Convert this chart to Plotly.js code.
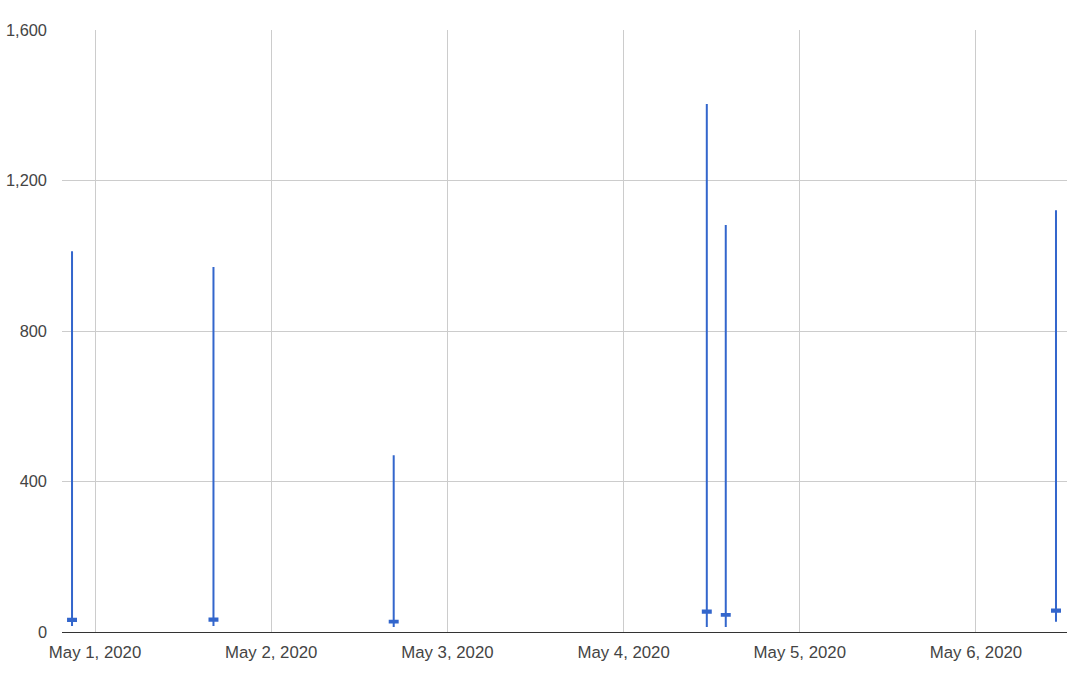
<!DOCTYPE html>
<html>
<head>
<meta charset="utf-8">
<script src="https://cdn.plot.ly/plotly-3.0.1.min.js"></script>
<style>html,body{margin:0;padding:0;background:#fff;}#chart{width:1091px;height:684px;}</style>
</head>
<body>
<div id="chart"></div>
<script>
const dates = ["2020-04-30 20:52", "2020-05-01 16:08", "2020-05-02 16:41", "2020-05-04 11:20", "2020-05-04 13:55", "2020-05-06 10:54"];
const openVals = [29, 30, 25, 51, 43, 54];
const closeVals = [35, 36, 30, 57, 48, 60];
const highVals = [1012, 970, 470, 1403, 1082, 1121];
const lowVals = [16, 16, 13, 13, 13, 27];
const xTickVals = ["2020-05-01", "2020-05-02", "2020-05-03", "2020-05-04", "2020-05-05", "2020-05-06"];
const yTickVals = [0, 400, 800, 1200, 1600];

const color = "#3366CC";
const trace = {
  type: "candlestick",
  x: dates,
  open: openVals,
  close: closeVals,
  high: highVals,
  low: lowVals,
  increasing: {line: {color: color, width: 2}, fillcolor: color},
  decreasing: {line: {color: color, width: 2}, fillcolor: color},
  whiskerwidth: 0,
  hoverinfo: "none"
};

const layout = {
  width: 1091, height: 684,
  margin: {l: 62, r: 24, t: 30, b: 52},
  paper_bgcolor: "#fff", plot_bgcolor: "#fff",
  showlegend: false,
  boxgap: 0.4,
  font: {family: "Arial, 'Liberation Sans', sans-serif", size: 16, color: "#444"},
  xaxis: {
    type: "date",
    range: ["2020-04-30 19:30", "2020-05-06 12:24"],
    tickvals: xTickVals,
    tickformat: "%b %-d, %Y",
    tickfont: {size: 16.8},
    showgrid: true, gridcolor: "#cccccc", gridwidth: 1,
    zeroline: false,
    showline: false,
    ticks: "",
    ticklabelstandoff: 8,
    rangeslider: {visible: false},
    fixedrange: true
  },
  yaxis: {
    range: [0, 1600],
    tickvals: yTickVals,
    tickformat: ",",
    tickfont: {size: 16.4},
    showgrid: true, gridcolor: "#cccccc", gridwidth: 1,
    zeroline: true, zerolinecolor: "#333333", zerolinewidth: 1,
    ticks: "",
    ticklabelstandoff: 14,
    fixedrange: true
  }
};

Plotly.newPlot("chart", [trace], layout, {displayModeBar: false, staticPlot: true});
</script>
</body>
</html>
